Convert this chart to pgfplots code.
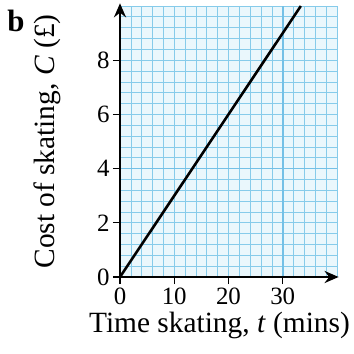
\documentclass[border=0pt]{standalone}
\usepackage{pgfplots}
\pgfplotsset{compat=1.18}
\usepackage{fontspec}
\setmainfont{Liberation Serif}
\newfontfamily\tickfont{Liberation Serif}
\usetikzlibrary{arrows.meta}
\definecolor{gridblue}{HTML}{86CBEA}
\definecolor{thickblue}{HTML}{74C0E6}
\definecolor{bgblue}{HTML}{EAF7FC}
\begin{document}
\begin{tikzpicture}
\path (-120bp,-77bp) rectangle (234bp,277bp);
\begin{axis}[
  at={(0,0)}, anchor=south west,
  scale only axis, width=217bp, height=271bp,
  xmin=0, xmax=40, ymin=0, ymax=10,
  axis lines=left,
  axis line style={draw=none},
  xtick={0,10,20,30}, ytick={0,2,4,6,8},
  xticklabels={0,10,20,30}, yticklabels={0,2,4,6,8},
  minor xtick={0,2,4,6,8,10,12,14,16,18,20,22,24,26,28,30,32,34,36,38,40},
  minor ytick={0,0.4,0.8,1.2,1.6,2,2.4,2.8,3.2,3.6,4,4.4,4.8,5.2,5.6,6,6.4,6.8,7.2,7.6,8,8.4,8.8,9.2,9.6,10},
  grid=both,
  major grid style={gridblue, line width=0.7pt},
  minor grid style={gridblue, line width=0.7pt},
  tick align=outside, major tick length=7bp, minor tick length=0pt,
  tick style={black, line width=1.2pt},
  axis background/.style={fill=bgblue},
  extra x ticks={30}, extra y ticks={4},
  extra x tick labels={}, extra y tick labels={},
  extra tick style={grid=major, major grid style={thickblue, line width=1.6pt}, major tick length=0pt},
  xticklabel style={font=\tickfont\fontsize{25}{26}\selectfont},
  yticklabel style={font=\tickfont\fontsize{25}{26}\selectfont},
  xlabel={Time skating, \textit{t} (mins)},
  ylabel={Cost of skating, \textit{C} (£)},
  label style={font=\fontsize{29.5}{30}\selectfont},
  xlabel style={at={(axis description cs:0.4585,0)}, anchor=base, yshift=-55bp},
  ylabel style={at={(axis description cs:-0.304,0.5)}, anchor=base, rotate=0},
  clip=false,
]
\addplot[black, line width=2.6pt] coordinates {(0,0) (33.333,10)};
\draw[black, line width=2.5pt, -{Stealth[length=14bp,width=12bp]}] (axis cs:0,0) -- (axis cs:40.3,0);
\draw[black, line width=2.5pt, -{Stealth[length=14bp,width=12bp]}] (axis cs:0,0) -- (axis cs:0,10.1);
\end{axis}
\node[font=\bfseries\fontsize{31}{31}\selectfont, anchor=base] at (-104bp,245bp) {b};
\end{tikzpicture}
\end{document}
